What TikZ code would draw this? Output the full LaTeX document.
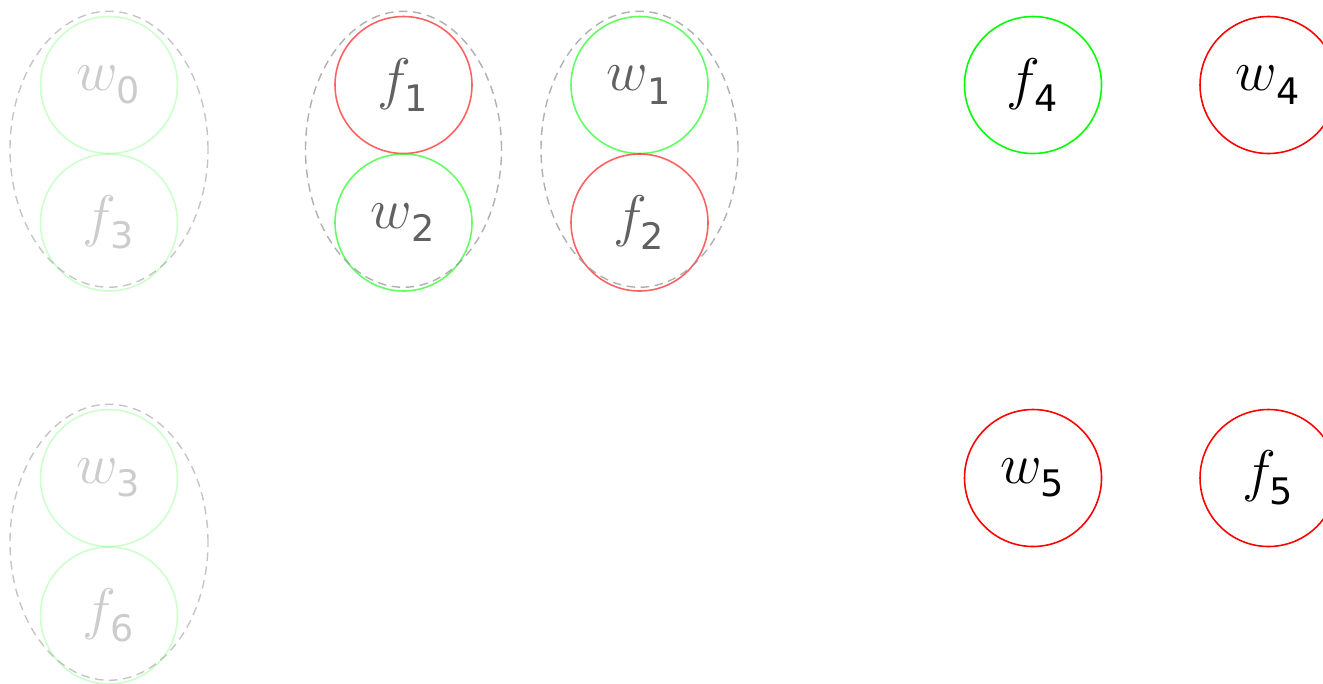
\RequirePackage{fix-cm}
\documentclass[tikz,border=0pt]{standalone}
\usepackage{amsmath}
\usepackage{fontspec}
\usepackage{xcolor}
\usepackage{tikz}
\usetikzlibrary{calc}
\newfontfamily\subfont{DejaVu Sans}
\definecolor{figgreen}{RGB}{0,255,0}
\definecolor{figred}{RGB}{255,0,0}
\definecolor{figgrp}{RGB}{150,150,150}
\tikzset{
  var/.style  ={circle, draw, line width=0.45pt, minimum size=1.37cm, inner sep=0pt, font=\fontsize{16.3}{19}\selectfont},
  vg/.style   ={var, draw=figgreen},
  vr/.style   ={var, draw=figred},
  grp/.style  ={draw=figgrp, line width=0.4pt, dash pattern=on 2.4pt off 1.6pt},
  faint/.style={opacity=0.2},
  half/.style ={opacity=0.62},
}
\newcommand{\vsub}[2]{$#1_{\lower1.4pt\hbox{\subfont\fontsize{10.4}{11}\selectfont #2}}$}

\begin{document}
\begin{tikzpicture}
  \useasboundingbox (0,0) rectangle (13.23,6.83);
  \clip (0,0) rectangle (13.23,6.83);
  % faded groups
  \begin{scope}[faint]
    \node[vg] (w0) at (1.09,5.98) {\vsub{w}{0}};
    \node[vg] (f3) at (1.09,4.605) {\vsub{f}{3}};
    \node[vg] (w3) at (1.09,2.05) {\vsub{w}{3}};
    \node[vg] (f6) at (1.09,0.675) {\vsub{f}{6}};
  \end{scope}
  \draw[grp,opacity=0.55] ($(w0)!0.5!(f3)+(0,0.045)$) ellipse (0.99 and 1.38);
  \draw[grp,opacity=0.55] ($(w3)!0.5!(f6)+(0,0.045)$) ellipse (0.99 and 1.38);
  % half faded groups
  \begin{scope}[half]
    \node[vr] (f1) at (4.035,5.98) {\vsub{f}{1}};
    \node[vg] (w2) at (4.035,4.605) {\vsub{w}{2}};
    \node[vg] (w1) at (6.395,5.98) {\vsub{w}{1}};
    \node[vr] (f2) at (6.395,4.605) {\vsub{f}{2}};
  \end{scope}
  \draw[grp,opacity=0.75] ($(f1)!0.5!(w2)+(0,0.045)$) ellipse (0.98 and 1.38);
  \draw[grp,opacity=0.75] ($(w1)!0.5!(f2)+(0,0.045)$) ellipse (0.985 and 1.38);
  % active nodes
  \node[vg] (f4) at (10.33,5.98) {\vsub{f}{4}};
  \node[vr] (w4) at (12.685,5.98) {\vsub{w}{4}};
  \node[vr] (w5) at (10.33,2.05) {\vsub{w}{5}};
  \node[vr] (f5) at (12.685,2.05) {\vsub{f}{5}};
\end{tikzpicture}
\end{document}
